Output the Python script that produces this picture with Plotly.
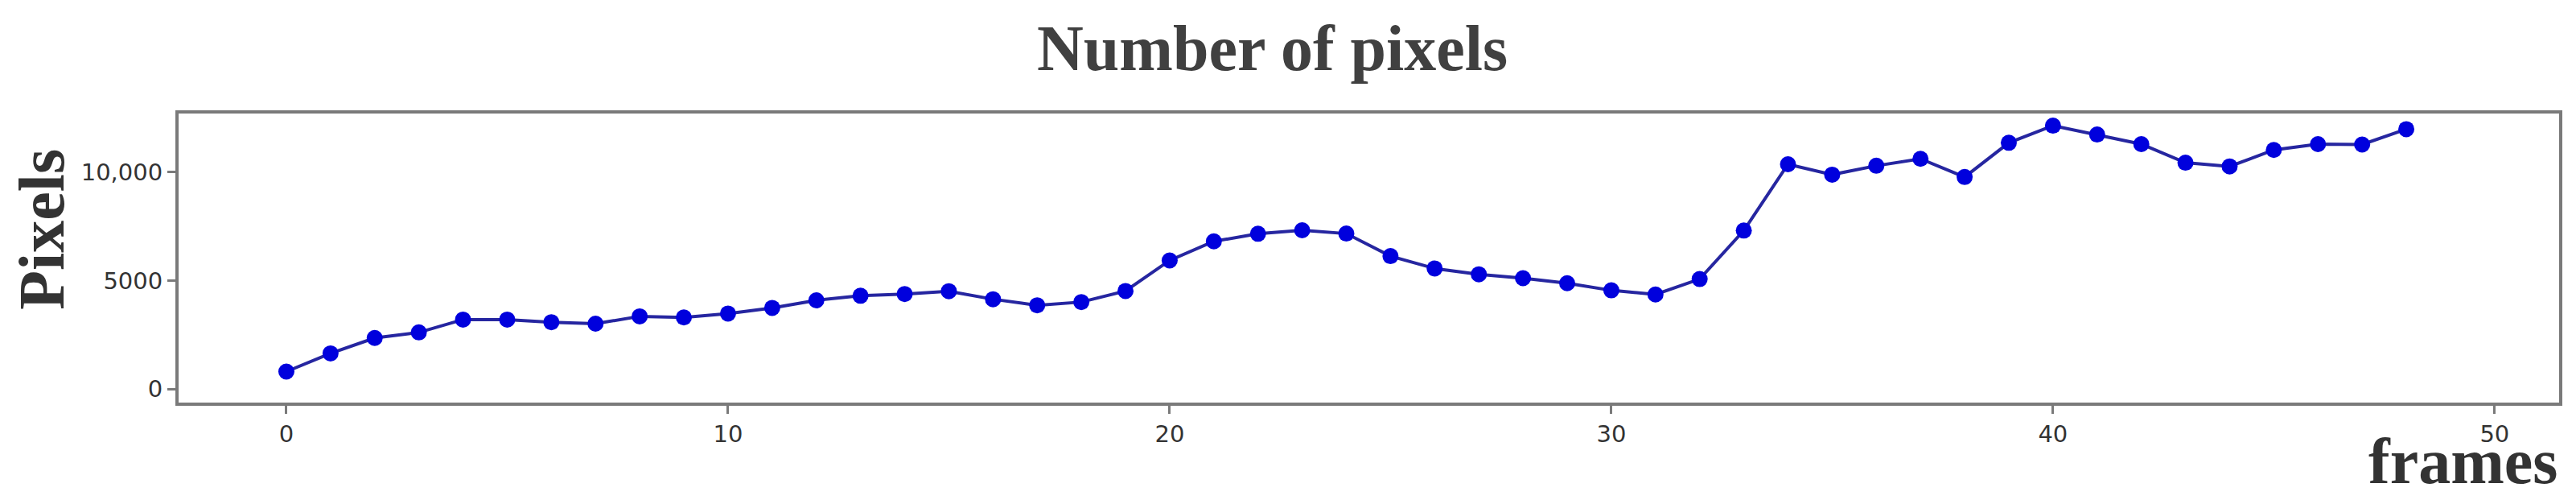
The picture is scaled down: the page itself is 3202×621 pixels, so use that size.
import plotly.graph_objects as go

# frame index and pixel count
frames = list(range(49))
pixels = [800, 1640, 2350, 2610, 3200, 3200, 3080, 3010, 3350, 3300,
          3480, 3740, 4090, 4300, 4380, 4510, 4140, 3860, 4010, 4520,
          5930, 6810, 7160, 7320, 7170, 6130, 5560, 5290, 5110, 4880,
          4550, 4360, 5070, 7310, 10370, 9890, 10300, 10620, 9780, 11360,
          12150, 11740, 11300, 10440, 10270, 11030, 11300, 11280, 11990]

x_ticks = [0, 10, 20, 30, 40, 50]
y_ticks = [0, 5000, 10000]
y_tick_text = ["0", "5000", "10,000"]

serif = "Liberation Serif, Times New Roman, serif"
axis_grey = "#7a7a7a"

fig = go.Figure()
fig.add_trace(go.Scatter(x=frames, y=pixels,
                         mode="lines+markers",
                         line=dict(color="#2626a0", width=4),
                         marker=dict(color="#0000dd", size=20,
                                     line=dict(color="#0000dd", width=0)),
                         showlegend=False))

fig.update_xaxes(range=[-2.44, 51.46], tickvals=x_ticks,
                 showgrid=False, zeroline=False,
                 showline=True, mirror=True, linecolor=axis_grey, linewidth=4,
                 ticks="outside", ticklen=10, tickwidth=3, tickcolor=axis_grey,
                 tickfont=dict(family="DejaVu Sans", size=29, color="#333333"))
fig.update_yaxes(range=[-630, 12710], tickvals=y_ticks, ticktext=y_tick_text,
                 showgrid=False, zeroline=False,
                 showline=True, mirror=True, linecolor=axis_grey, linewidth=4,
                 ticks="outside", ticklen=10, tickwidth=3, tickcolor=axis_grey,
                 tickfont=dict(family="DejaVu Sans", size=29, color="#333333"))

# title and axis labels as annotations so they sit where the reference has them
fig.add_annotation(text="<b>Number of pixels</b>", xref="paper", yref="paper",
                   x=0.4593, y=1.226, xanchor="center", yanchor="middle",
                   showarrow=False, font=dict(family=serif, size=80, color="#404040"))
fig.add_annotation(text="<b>Pixels</b>", xref="paper", yref="paper",
                   x=-0.0575, y=0.599, xanchor="center", yanchor="middle",
                   textangle=-90, showarrow=False,
                   font=dict(family=serif, size=80, color="#333333"))
fig.add_annotation(text="<b>frames</b>", xref="paper", yref="paper",
                   x=1.0, y=-0.203, xanchor="right", yanchor="middle",
                   showarrow=False, font=dict(family=serif, size=80, color="#333333"))

fig.update_layout(width=3202, height=621,
                  margin=dict(l=214, r=29, t=133, b=129),
                  paper_bgcolor="white", plot_bgcolor="white")

fig.write_html("out.html")
